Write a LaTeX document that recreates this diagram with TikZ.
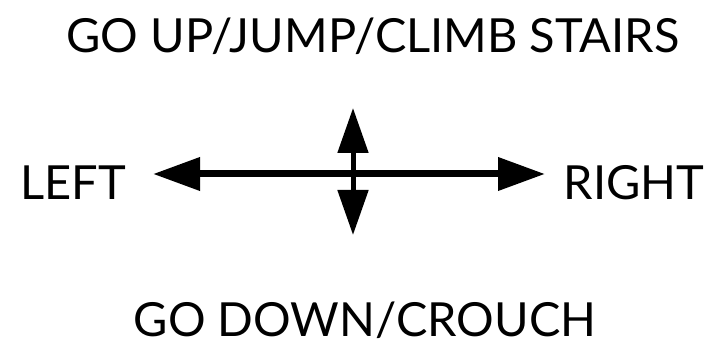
\documentclass[tikz,border=0pt]{standalone}
\usepackage{fontspec}
\setmainfont{Lato}
\usetikzlibrary{arrows.meta}
\tikzset{
  lbl/.style={anchor=base,inner sep=0pt,font=\fontsize{47}{51}\selectfont},
  horizarrow/.style={{Triangle[length=47pt,width=32pt]}-{Triangle[length=47pt,width=32pt]},line width=7pt},
  vertarrow/.style={{Triangle[length=45pt,width=30pt]}-{Triangle[length=45pt,width=30pt]},line width=5pt},
}
\begin{document}
\begin{tikzpicture}[x=1pt,y=1pt]
  \useasboundingbox (0,0) rectangle (712,347);
  % labels
  \node[lbl] (up) at (373,294) {GO UP/JUMP/CLIMB STAIRS};
  \node[lbl] (left) at (73,147) {LEFT};
  \node[lbl] (right) at (634,147) {RIGHT};
  \node[lbl] (down) at (365,10) {GO DOWN/CROUCH};
  % arrow ends
  \coordinate (w) at (153,173);
  \coordinate (e) at (545,173);
  \coordinate (n) at (353,239);
  \coordinate (s) at (353,112);
  \draw[horizarrow] (w) -- (e);
  \draw[vertarrow] (s) -- (n);
\end{tikzpicture}
\end{document}
